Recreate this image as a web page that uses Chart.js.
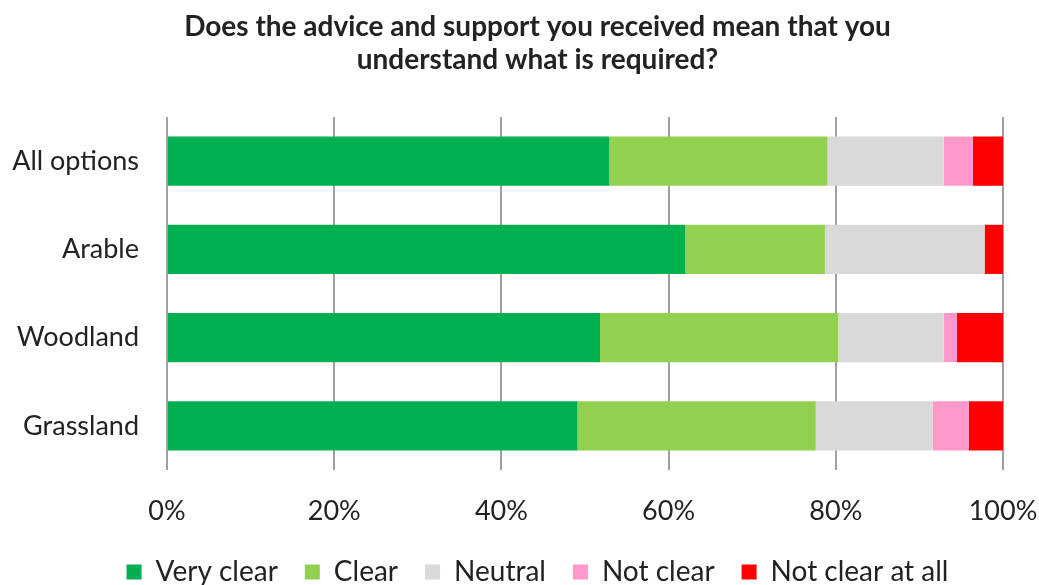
<!DOCTYPE html>
<html>
<head>
<meta charset="utf-8">
<script src="https://cdn.jsdelivr.net/npm/chart.js@4"></script>
<style>
    html, body { margin: 0; padding: 0; background: #fff; }
    #wrap { width: 1039px; height: 585px; position: relative; }
</style>
</head>
<body>
<div id="wrap"><canvas id="myChart"></canvas></div>
<script>
const categories = ['All options', 'Arable', 'Woodland', 'Grassland'];

// share of answers per option, in %
const veryClear     = [52.9, 62.0, 51.8, 49.1];
const clear         = [26.1, 16.7, 28.5, 28.5];
const neutral       = [13.9, 19.1, 12.6, 14.0];
const notClear      = [3.5, 0, 1.6, 4.3];
const notClearAtAll = [3.6, 2.2, 5.5, 4.1];

const xTicks = [0, 20, 40, 60, 80, 100];

const titleLines = [
    'Does the advice and support you received mean that you',
    'understand what is required?'
];

const textColor = '#222222';
const ctx = document.getElementById('myChart').getContext('2d');

const myChart = new Chart(ctx, {
    type: 'bar',
    data: {
        labels: categories,
        datasets: [
            { label: 'Very clear', data: veryClear, backgroundColor: '#00B050' },
            { label: 'Clear', data: clear, backgroundColor: '#92D050' },
            { label: 'Neutral', data: neutral, backgroundColor: '#D9D9D9' },
            { label: 'Not clear', data: notClear, backgroundColor: '#FF99CC' },
            { label: 'Not clear at all', data: notClearAtAll, backgroundColor: '#FF0000' },
        ]
    },
    options: {
        indexAxis: 'y',
        responsive: true,
        maintainAspectRatio: false,
        animation: false,
        layout: {
            // the spacer axis on the right pushes title and legend centre over a bit
            padding: { left: 0, right: -36, top: 0, bottom: -11 }
        },
        datasets: {
            bar: {
                categoryPercentage: 1,
                barPercentage: 0.557,
                borderWidth: 0
            }
        },
        scales: {
            x: {
                stacked: true,
                min: 0,
                max: 100,
                afterBuildTicks: (scale) => {
                    scale.ticks = xTicks.map(v => ({ value: v }));
                },
                afterFit: (scale) => {
                    scale.height = 61;
                    scale.paddingRight = 0;
                },
                grid: {
                    color: '#A0A0A0',
                    lineWidth: 2,
                    drawTicks: false
                },
                border: { display: false },
                ticks: {
                    padding: 25,
                    color: textColor,
                    font: { family: 'Lato', size: 27 },
                    callback: (v) => v + '%'
                }
            },
            y: {
                stacked: true,
                afterFit: (scale) => { scale.width = 167; },
                grid: { display: false, drawTicks: false },
                border: { display: false },
                ticks: {
                    padding: 28,
                    color: textColor,
                    font: { family: 'Lato', size: 27 }
                }
            },
            spacer: {
                type: 'category',
                axis: 'y',
                position: 'right',
                afterFit: (scale) => { scale.width = 72; },
                grid: { display: false, drawTicks: false },
                border: { display: false },
                ticks: { display: false }
            }
        },
        plugins: {
            title: {
                display: true,
                text: titleLines,
                color: textColor,
                font: { family: 'Lato', size: 28, weight: 'bold', lineHeight: '33px' },
                padding: { top: 10, bottom: 41 }
            },
            legend: {
                position: 'bottom',
                labels: {
                    boxWidth: 15,
                    boxHeight: 15,
                    padding: 27,
                    color: textColor,
                    font: { family: 'Lato', size: 28 }
                }
            },
            tooltip: { enabled: false }
        }
    }
});
</script>
</body>
</html>
